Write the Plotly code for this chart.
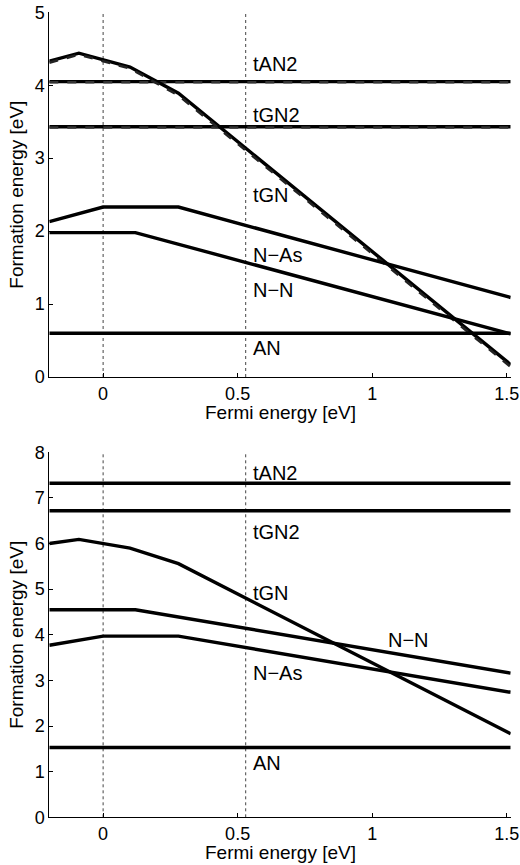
import plotly.graph_objects as go

# ---------------- data ----------------
x_range = [-0.2, 1.515]
fermi_ticks = [0, 0.5, 1, 1.5]
fermi_tick_text = ["0", "0.5", "1", "1.5"]
vband_lines = [0.0, 0.53]

# top panel
top_tGN_x = [-0.2, -0.09, 0.10, 0.28, 1.515]
top_tGN_y = [4.33, 4.44, 4.25, 3.89, 0.17]
top_tGN_dash_y = [4.31, 4.42, 4.23, 3.86, 0.14]
top_NAs_x = [-0.2, 0.0, 0.28, 1.515]
top_NAs_y = [2.13, 2.33, 2.33, 1.09]
top_NN_x = [-0.2, 0.12, 1.515]
top_NN_y = [1.98, 1.98, 0.59]
top_tAN2 = 4.05
top_tGN2 = 3.43
top_AN = 0.60
top_yticks = [0, 1, 2, 3, 4, 5]

# bottom panel
bot_tGN_x = [-0.2, -0.09, 0.10, 0.28, 1.515]
bot_tGN_y = [6.00, 6.09, 5.90, 5.56, 1.83]
bot_NN_x = [-0.2, 0.12, 1.515]
bot_NN_y = [4.55, 4.55, 3.16]
bot_NAs_x = [-0.2, 0.0, 0.28, 1.515]
bot_NAs_y = [3.77, 3.97, 3.97, 2.74]
bot_tAN2 = 7.32
bot_tGN2 = 6.72
bot_AN = 1.53
bot_yticks = [0, 1, 2, 3, 4, 5, 6, 7, 8]

# labels: (text, x, y)
top_labels = [("tAN2", 0.548, 4.29), ("tGN2", 0.548, 3.59), ("tGN", 0.548, 2.50),
              ("N\u2212As", 0.548, 1.67), ("N\u2212N", 0.548, 1.19), ("AN", 0.548, 0.40)]
bot_labels = [("tAN2", 0.548, 7.54), ("tGN2", 0.548, 6.26), ("tGN", 0.548, 4.91),
              ("N\u2212N", 1.051, 3.89), ("N\u2212As", 0.548, 3.16), ("AN", 0.548, 1.18)]

# ---------------- figure ----------------
FONT = "Liberation Sans, Arial, Helvetica, sans-serif"
LW = 3.4
fig = go.Figure()

def line(x, y, xa, ya, dash="solid", w=LW, color="black"):
    fig.add_trace(go.Scatter(x=x, y=y, mode="lines", xaxis=xa, yaxis=ya,
                             line=dict(color=color, width=w, dash=dash),
                             showlegend=False, hoverinfo="skip"))

# vertical dotted lines
for xv in vband_lines:
    line([xv, xv], [0, 5], "x", "y", dash="dot", w=1, color="#444444")
    line([xv, xv], [0, 8], "x2", "y2", dash="dot", w=1, color="#444444")

# top panel
line(x_range, [top_tAN2, top_tAN2], "x", "y")
line(x_range, [top_tAN2 - 0.01, top_tAN2 - 0.01], "x", "y", dash="dash", w=2.6, color="#333333")
line(x_range, [top_tGN2, top_tGN2], "x", "y")
line(x_range, [top_tGN2 - 0.01, top_tGN2 - 0.01], "x", "y", dash="dash", w=2.6, color="#333333")
line(top_tGN_x, top_tGN_y, "x", "y")
line(top_tGN_x, top_tGN_dash_y, "x", "y", dash="dash", w=2.6, color="#222222")
line(top_NAs_x, top_NAs_y, "x", "y")
line(top_NN_x, top_NN_y, "x", "y")
line(x_range, [top_AN, top_AN], "x", "y")

# bottom panel
line(x_range, [bot_tAN2, bot_tAN2], "x2", "y2")
line(x_range, [bot_tGN2, bot_tGN2], "x2", "y2")
line(bot_tGN_x, bot_tGN_y, "x2", "y2")
line(bot_NN_x, bot_NN_y, "x2", "y2")
line(bot_NAs_x, bot_NAs_y, "x2", "y2")
line(x_range, [bot_AN, bot_AN], "x2", "y2")

LABEL_FS = 20
annotations = []
for t, xx, yy in top_labels:
    annotations.append(dict(text=t, x=xx, y=yy, xref="x", yref="y", xanchor="left",
                            yanchor="middle", showarrow=False,
                            font=dict(size=LABEL_FS, color="black", family=FONT)))
for t, xx, yy in bot_labels:
    annotations.append(dict(text=t, x=xx, y=yy, xref="x2", yref="y2", xanchor="left",
                            yanchor="middle", showarrow=False,
                            font=dict(size=LABEL_FS, color="black", family=FONT)))

# axis titles
H = 865.0
TITLE_FS = 19
for yc in [(12.3 + 377) / 2, (452.3 + 817.3) / 2]:
    annotations.append(dict(text="Formation energy [eV]", x=17 / 520, y=1 - yc / H, xref="paper", yref="paper",
                            textangle=-90, showarrow=False, xanchor="center", yanchor="middle",
                            font=dict(size=TITLE_FS, color="black", family=FONT)))
for yb in [377 + 35, 817.3 + 35]:
    annotations.append(dict(text="Fermi energy [eV]", x=280 / 520, y=1 - yb / H, xref="paper", yref="paper",
                            showarrow=False, xanchor="center", yanchor="middle",
                            font=dict(size=TITLE_FS, color="black", family=FONT)))

xdom = [49.3 / 520, 510.7 / 520]
axis_common = dict(showgrid=False, zeroline=False, showline=True, linecolor="black", linewidth=1,
                   ticks="inside", ticklen=4, tickcolor="black", mirror=False,
                   tickfont=dict(size=18, color="black", family=FONT))

fig.update_layout(
    width=520, height=865, margin=dict(l=0, r=0, t=0, b=0),
    paper_bgcolor="white", plot_bgcolor="white",
    xaxis=dict(domain=xdom, range=x_range, anchor="y", tickvals=fermi_ticks, ticktext=fermi_tick_text,
               automargin=False, **axis_common),
    yaxis=dict(domain=[1 - 377 / H, 1 - 12.3 / H], range=[0, 5], anchor="x", tickvals=top_yticks,
               automargin=False, **axis_common),
    xaxis2=dict(domain=xdom, range=x_range, anchor="y2", tickvals=fermi_ticks, ticktext=fermi_tick_text,
                automargin=False, **axis_common),
    yaxis2=dict(domain=[1 - 817.3 / H, 1 - 452.3 / H], range=[0, 8], anchor="x2", tickvals=bot_yticks,
                automargin=False, **axis_common),
    annotations=annotations,
)

fig.write_html("out.html", config={"displayModeBar": False},
               post_script="document.body.style.margin='0';document.body.style.overflow='hidden';")
